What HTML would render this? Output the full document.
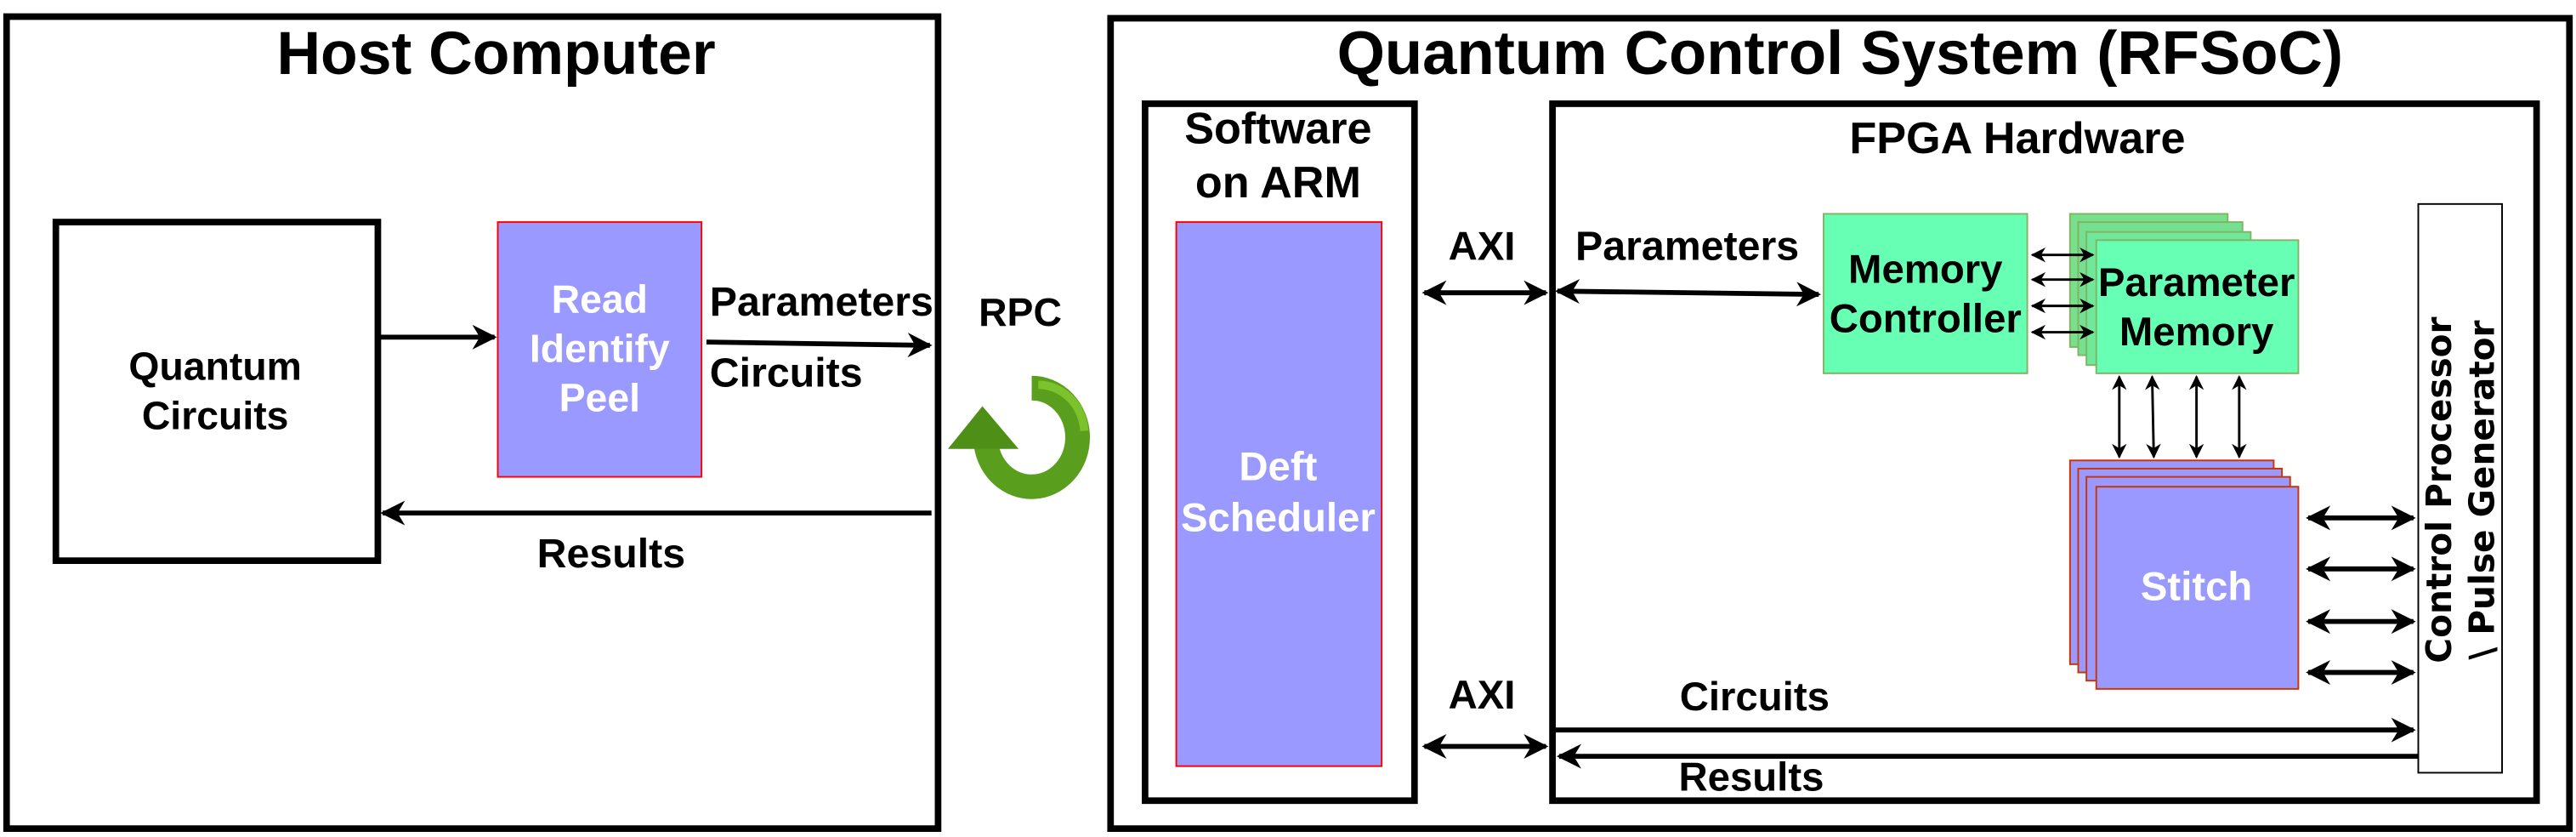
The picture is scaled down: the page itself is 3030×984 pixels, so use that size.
<!DOCTYPE html>
<html><head><meta charset="utf-8"><style>
html,body{margin:0;padding:0;background:#fff;}
svg{display:block;}
text{font-family:"Liberation Sans",sans-serif;font-weight:bold;}
</style></head><body>
<svg width="3030" height="984" viewBox="0 0 1568 509" xmlns="http://www.w3.org/2000/svg">
<defs>
<marker id="ah" viewBox="0 0 10 10" refX="9" refY="5" markerWidth="5" markerHeight="5" orient="auto-start-reverse" markerUnits="strokeWidth">
<path d="M0,0 L10,5 L0,10 L3,5 z" fill="#000"/></marker>
<marker id="ahs" viewBox="0 0 10 10" refX="9" refY="5" markerWidth="6" markerHeight="6" orient="auto-start-reverse" markerUnits="strokeWidth">
<path d="M0,0 L10,5 L0,10 L3,5 z" fill="#000"/></marker>
</defs>
<rect width="1568" height="509" fill="#fff"/>
<!-- Host -->
<rect x="4" y="10" width="567" height="494" fill="none" stroke="#000" stroke-width="4"/>
<text x="302" y="45" font-size="37" text-anchor="middle">Host Computer</text>
<rect x="34" y="135" width="196" height="206" fill="none" stroke="#000" stroke-width="4"/>
<text x="131" y="231" font-size="24" text-anchor="middle">Quantum</text>
<text x="131" y="261" font-size="24" text-anchor="middle">Circuits</text>
<rect x="303" y="135" width="124" height="155" fill="#9999ff" stroke="#ff0000" stroke-width="1"/>
<text x="365" y="190" font-size="24" text-anchor="middle" fill="#fff">Read</text>
<text x="365" y="220" font-size="24" text-anchor="middle" fill="#fff">Identify</text>
<text x="365" y="250" font-size="24" text-anchor="middle" fill="#fff">Peel</text>
<line x1="231" y1="205" x2="301" y2="205" stroke="#000" stroke-width="3" marker-end="url(#ah)"/>
<text x="432" y="192" font-size="25">Parameters</text>
<line x1="430" y1="208" x2="566" y2="210" stroke="#000" stroke-width="3" marker-end="url(#ah)"/>
<text x="432" y="235" font-size="25">Circuits</text>
<line x1="567" y1="312" x2="233" y2="312" stroke="#000" stroke-width="3" marker-end="url(#ah)"/>
<text x="372" y="345" font-size="25" text-anchor="middle">Results</text>
<text x="621" y="198" font-size="24" text-anchor="middle">RPC</text>
<!-- RPC icon -->
<path d="M628,236 A28,30 0 1,1 600,268" fill="none" stroke="#5a9e1e" stroke-width="15"/>
<path d="M632,234 A28,30 0 0,1 660,262" fill="none" stroke="#7cc22c" stroke-width="5"/>
<polygon points="577,273 598,247 620,273" fill="#4e8f18"/>
<!-- QCS -->
<rect x="676" y="11" width="888" height="493" fill="none" stroke="#000" stroke-width="4"/>
<text x="1120" y="45" font-size="37.5" text-anchor="middle">Quantum Control System (RFSoC)</text>
<rect x="697" y="63" width="164" height="424" fill="none" stroke="#000" stroke-width="4"/>
<text x="778" y="87" font-size="27" text-anchor="middle">Software</text>
<text x="778" y="120" font-size="27" text-anchor="middle">on ARM</text>
<rect x="716" y="135" width="125" height="331" fill="#9999ff" stroke="#ff0000" stroke-width="1"/>
<text x="778" y="292" font-size="24.5" text-anchor="middle" fill="#fff">Deft</text>
<text x="778" y="323" font-size="24.5" text-anchor="middle" fill="#fff">Scheduler</text>
<rect x="945" y="63" width="599" height="424" fill="none" stroke="#000" stroke-width="4"/>
<text x="1228" y="93" font-size="27" text-anchor="middle">FPGA Hardware</text>
<text x="902" y="158" font-size="24.5" text-anchor="middle">AXI</text>
<line x1="867" y1="178" x2="941" y2="178" stroke="#000" stroke-width="3" marker-start="url(#ah)" marker-end="url(#ah)"/>
<text x="1027" y="158" font-size="25" text-anchor="middle">Parameters</text>
<line x1="948" y1="177" x2="1107" y2="179" stroke="#000" stroke-width="3" marker-start="url(#ah)" marker-end="url(#ah)"/>
<rect x="1110" y="130" width="124" height="97" fill="#66ffb3" stroke="#82b366" stroke-width="1"/>
<text x="1172" y="172" font-size="24.5" text-anchor="middle">Memory</text>
<text x="1172" y="202" font-size="24.5" text-anchor="middle">Controller</text>
<rect x="1260" y="130" width="96" height="81" fill="#78e08a" stroke="#82b366" stroke-width="1"/>
<rect x="1265" y="135" width="100" height="81" fill="#75e08f" stroke="#82b366" stroke-width="1"/>
<rect x="1270" y="141" width="100" height="81" fill="#70e89a" stroke="#82b366" stroke-width="1"/>
<rect x="1276" y="146" width="123" height="81" fill="#66ffb3" stroke="#82b366" stroke-width="1"/>
<text x="1337" y="180" font-size="24.5" text-anchor="middle">Parameter</text>
<text x="1337" y="210" font-size="24.5" text-anchor="middle">Memory</text>
<g stroke="#000" stroke-width="1.5">
<line x1="1237" y1="155" x2="1274" y2="155" marker-start="url(#ahs)" marker-end="url(#ahs)"/>
<line x1="1237" y1="170" x2="1274" y2="170" marker-start="url(#ahs)" marker-end="url(#ahs)"/>
<line x1="1237" y1="186" x2="1274" y2="186" marker-start="url(#ahs)" marker-end="url(#ahs)"/>
<line x1="1237" y1="202" x2="1274" y2="202" marker-start="url(#ahs)" marker-end="url(#ahs)"/>
<line x1="1290" y1="229" x2="1290" y2="278" marker-start="url(#ahs)" marker-end="url(#ahs)"/>
<line x1="1310" y1="229" x2="1311" y2="278" marker-start="url(#ahs)" marker-end="url(#ahs)"/>
<line x1="1337" y1="229" x2="1337" y2="278" marker-start="url(#ahs)" marker-end="url(#ahs)"/>
<line x1="1363" y1="229" x2="1363" y2="278" marker-start="url(#ahs)" marker-end="url(#ahs)"/>
</g>
<rect x="1260" y="280" width="124" height="124" fill="#9999ff" stroke="#cc3300" stroke-width="1"/>
<rect x="1265" y="285" width="124" height="124" fill="#9999ff" stroke="#cc3300" stroke-width="1"/>
<rect x="1270" y="290" width="124" height="124" fill="#9999ff" stroke="#cc3300" stroke-width="1"/>
<rect x="1276" y="296" width="123" height="123" fill="#9999ff" stroke="#cc3300" stroke-width="1"/>
<text x="1337" y="365" font-size="24.5" text-anchor="middle" fill="#fff">Stitch</text>
<g stroke="#000" stroke-width="3">
<line x1="1405" y1="315" x2="1469" y2="315" marker-start="url(#ah)" marker-end="url(#ah)"/>
<line x1="1405" y1="346" x2="1469" y2="346" marker-start="url(#ah)" marker-end="url(#ah)"/>
<line x1="1405" y1="378" x2="1469" y2="378" marker-start="url(#ah)" marker-end="url(#ah)"/>
<line x1="1405" y1="409" x2="1469" y2="409" marker-start="url(#ah)" marker-end="url(#ah)"/>
</g>
<rect x="1472" y="124" width="51" height="346" fill="#fff" stroke="#000" stroke-width="1"/>
<text transform="translate(1492,298) rotate(-90)" font-size="21" text-anchor="middle" style="font-family:'DejaVu Sans',sans-serif">Control Processor</text>
<text transform="translate(1518,298) rotate(-90)" font-size="21" text-anchor="middle" style="font-family:'DejaVu Sans',sans-serif">\ Pulse Generator</text>
<text x="902" y="431" font-size="24.5" text-anchor="middle">AXI</text>
<line x1="867" y1="454" x2="941" y2="454" stroke="#000" stroke-width="3" marker-start="url(#ah)" marker-end="url(#ah)"/>
<text x="1068" y="432" font-size="24.5" text-anchor="middle">Circuits</text>
<line x1="946" y1="444" x2="1469" y2="444" stroke="#000" stroke-width="3" marker-end="url(#ah)"/>
<line x1="1472" y1="460" x2="949" y2="460" stroke="#000" stroke-width="3" marker-end="url(#ah)"/>
<text x="1066" y="481" font-size="24.5" text-anchor="middle">Results</text>
</svg>
</body></html>
